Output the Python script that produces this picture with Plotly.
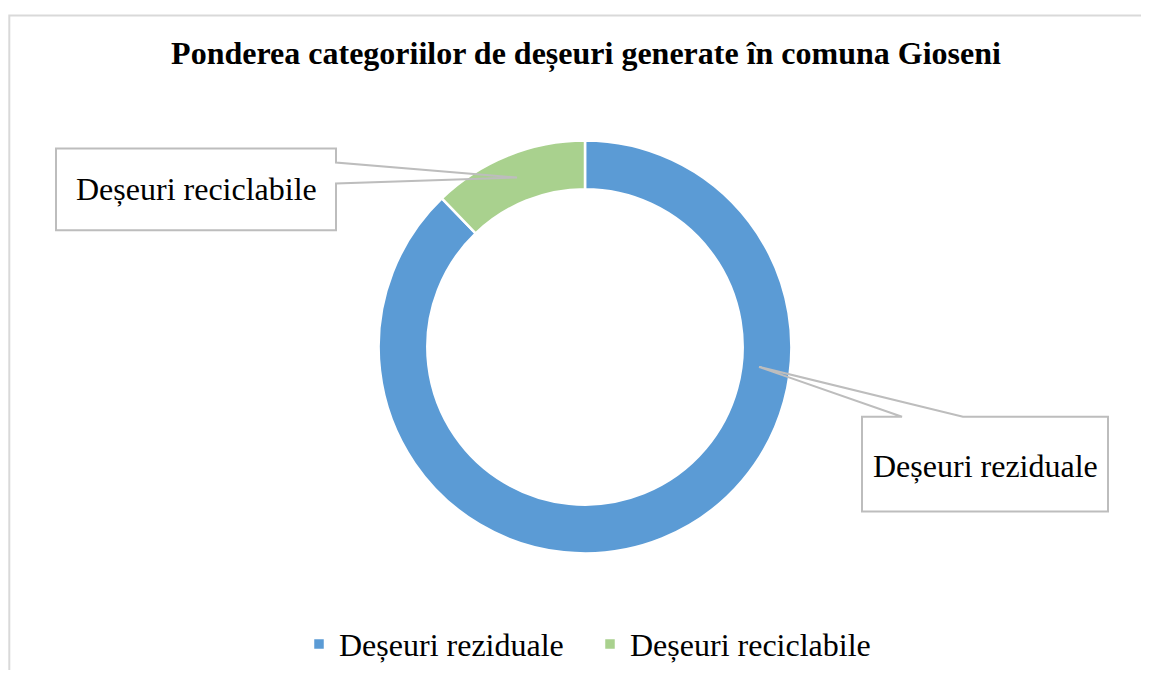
import plotly.graph_objects as go

# ---- data ----
categories = ["Deșeuri reziduale", "Deșeuri reciclabile"]
shares = [87.8, 12.2]
colors = ["#5B9BD5", "#A9D18E"]
title_text = "Ponderea categoriilor de deșeuri generate în comuna Gioseni"

# figure size chosen so the page (with 8px body margin) fits the window without scrollbars
W, H = 1133, 664
OFF = 8  # body margin of the page
FONT = "Liberation Serif, Times New Roman, serif"


def px(x):
    return (x - OFF) / W


def py(y):
    return 1 - (y - OFF) / H


def path(points, close=True):
    s = "M " + " L ".join(f"{px(x):.5f},{py(y):.5f}" for x, y in points)
    return s + (" Z" if close else "")


fig = go.Figure(
    go.Pie(
        labels=categories,
        values=shares,
        hole=0.764,
        sort=False,
        direction="clockwise",
        rotation=0,
        textinfo="none",
        marker=dict(colors=colors, line=dict(color="white", width=2.5)),
        domain=dict(x=[px(378), px(792)], y=[py(555), py(141)]),
    )
)

shapes = [
    # chart border (top and left edges visible in the frame)
    dict(type="path", xref="paper", yref="paper",
         path=path([(9.3, OFF + H), (9.3, 15.5), (OFF + W, 15.5)], close=False),
         line=dict(color="#d9d9d9", width=2), fillcolor="rgba(0,0,0,0)", layer="below"),
    # callout: recyclable
    dict(type="path", xref="paper", yref="paper",
         path=path([(56, 149), (336, 149), (336, 163), (517, 178), (336, 184), (336, 231), (56, 231)]),
         line=dict(color="#bdbdbd", width=2), fillcolor="rgba(0,0,0,0)"),
    # callout: residual
    dict(type="path", xref="paper", yref="paper",
         path=path([(862, 418), (902, 418), (759, 368), (963, 418), (1108, 418), (1108, 513), (862, 513)]),
         line=dict(color="#bdbdbd", width=2), fillcolor="rgba(0,0,0,0)"),
]

annotations = [
    dict(text=categories[1], x=px(196), y=py(190), xref="paper", yref="paper",
         showarrow=False, xanchor="center", yanchor="middle",
         font=dict(family=FONT, size=32, color="#000000")),
    dict(text=categories[0], x=px(985), y=py(467), xref="paper", yref="paper",
         showarrow=False, xanchor="center", yanchor="middle",
         font=dict(family=FONT, size=32, color="#000000")),
]

fig.update_layout(
    width=W, height=H,
    margin=dict(l=0, r=0, t=0, b=0),
    paper_bgcolor="white", plot_bgcolor="white",
    title=dict(text=f"<b>{title_text}</b>", x=px(586), xanchor="center",
               y=py(53), yanchor="middle",
               font=dict(family=FONT, size=32, color="#000000")),
    showlegend=True,
    legend=dict(orientation="h", x=px(299), xanchor="left", y=py(646), yanchor="middle",
                entrywidth=246, entrywidthmode="pixels",
                font=dict(family=FONT, size=32, color="#000000"),
                bgcolor="rgba(0,0,0,0)", itemclick=False),
    shapes=shapes,
    annotations=annotations,
)

fig.write_html("out.html")
